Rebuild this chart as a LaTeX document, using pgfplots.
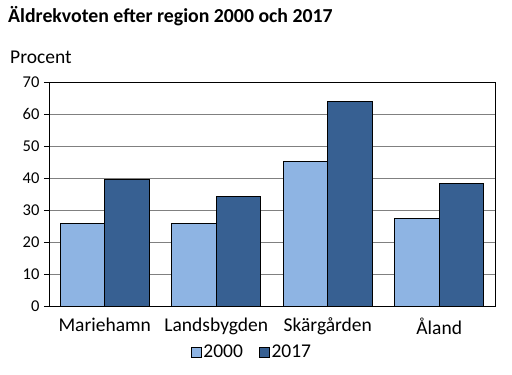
\documentclass[border=0pt]{standalone}
\usepackage{pgfplots}
\pgfplotsset{compat=1.18}
\usepackage{fontspec}
\setmainfont{Carlito}
\definecolor{lightb}{RGB}{142,180,227}
\definecolor{darkb}{RGB}{55,96,146}
\definecolor{gridg}{RGB}{128,128,128}
\begin{document}
\begin{tikzpicture}[x=1pt,y=1pt]
\useasboundingbox (0,0) rectangle (512,-375);
\node[anchor=base west,font=\fontsize{19.8}{22}\selectfont\bfseries,inner sep=0] at (8,-22) {Äldrekvoten efter region 2000 och 2017};
\node[anchor=base west,font=\fontsize{19.5}{22}\selectfont,inner sep=0] at (10,-63) {Procent};
\begin{axis}[
  at={(49pt,-306pt)}, anchor=south west,
  scale only axis, width=446pt, height=224pt,
  ybar=0pt, bar width=0.4,
  xmin=-0.5, xmax=3.5, ymin=0, ymax=70,
  xtick=data, xticklabels={Mariehamn,Landsbygden,Skärgården,Åland},
  ytick={0,10,...,70}, ytick pos=left,
  x tick style={draw=none},
  y tick style={black, line width=0.6pt},
  tick align=outside, major tick length=5pt,
  ymajorgrids, grid style={gridg, line width=0.8pt},
  axis line style={black, line width=0.8pt},
  /pgf/number format/assume math mode=true,
  yticklabel style={font=\fontsize{16.5}{18}\selectfont, xshift=-1pt},
  xticklabel style={font=\fontsize{19.5}{22}\selectfont, yshift=-3pt},
  legend style={at={(0.455,-0.205)}, anchor=center, draw=none, font=\fontsize{19.5}{22}\selectfont, nodes={inner xsep=2pt}, /tikz/every even column/.append style={column sep=14pt}},
  legend columns=2,
  legend image code/.code={\draw[#1, draw=black, line width=0.6pt] (0pt,-5pt) rectangle (10pt,5pt);},
  legend cell align=left,
]
\addplot[fill=lightb, draw=black, line width=0.8pt] coordinates {(0,25.8) (1,25.8) (2,45.2) (3,27.4)};
\addplot[fill=darkb, draw=black, line width=0.8pt] coordinates {(0,39.6) (1,34.3) (2,64.0) (3,38.3)};
\legend{2000,2017}
\end{axis}
\end{tikzpicture}
\end{document}
